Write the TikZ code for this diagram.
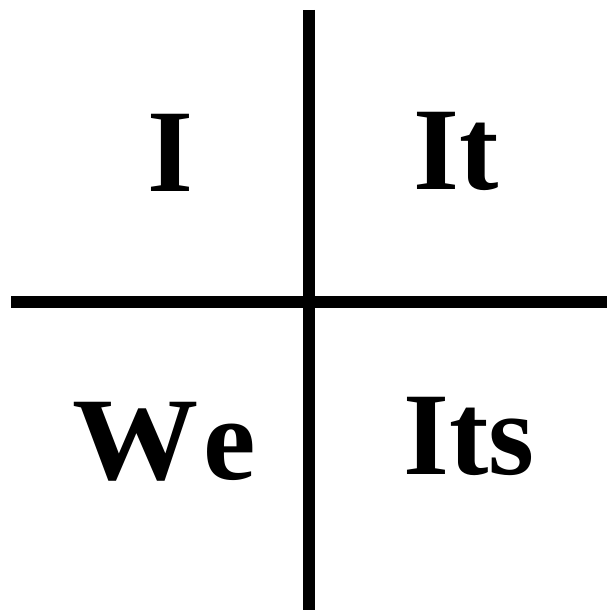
\documentclass[tikz,border=0pt]{standalone}
\usepackage{fontspec}
\setmainfont{Liberation Serif}
\begin{document}
\begin{tikzpicture}[x=1pt,y=1pt,
  axis/.style={line width=12pt, black},
  word/.style={font=\fontsize{118}{118}\selectfont\bfseries, anchor=base, inner sep=0pt}]
\useasboundingbox (0,0) rectangle (607,610);
\fill[white] (0,0) rectangle (607,610);
\coordinate (vtop) at (309,600);
\coordinate (vbot) at (309,0);
\coordinate (hleft) at (11,308);
\coordinate (hright) at (607,308);
\draw[axis] (vtop) -- (vbot);
\draw[axis] (hleft) -- (hright);
\node[word] (i) at (170,418) {I};
\node[word] (it) at (456,420) {It};
\node[word] (we) at (164,130) {\scalebox{1.07}[1]{W}\hspace{5pt}e};
\node[word] (its) at (469,135) {Its};
\end{tikzpicture}
\end{document}
